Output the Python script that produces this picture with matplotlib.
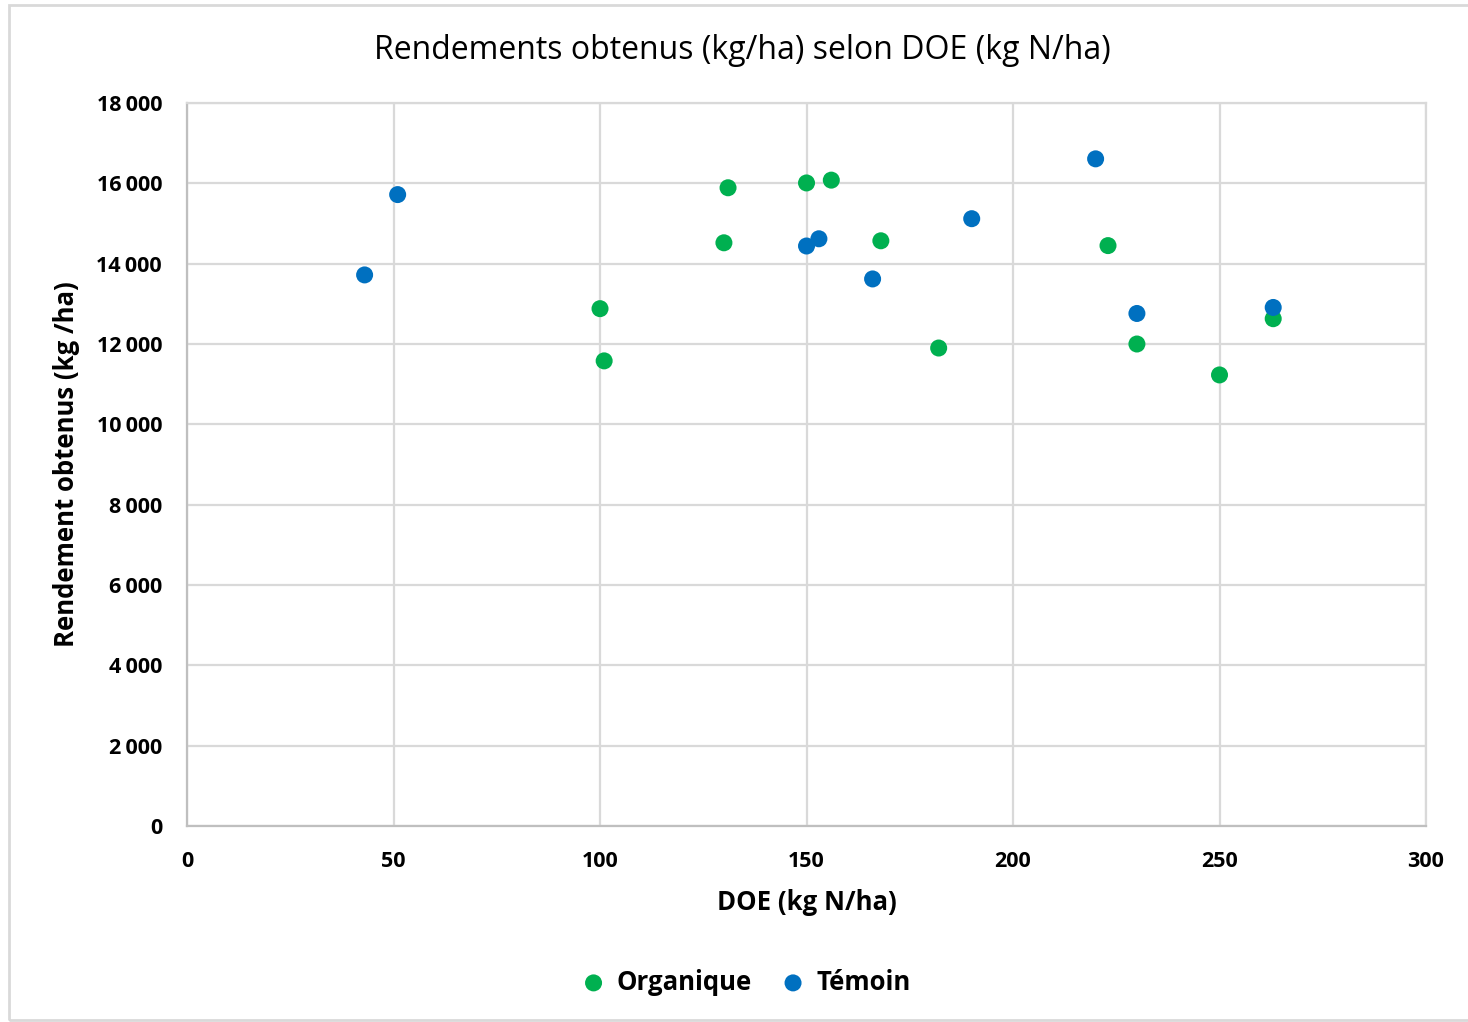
import matplotlib.pyplot as plt
from matplotlib.patches import Rectangle
from matplotlib.ticker import FuncFormatter

plt.rcParams['font.family'] = ['Open Sans', 'DejaVu Sans']

# Organique
doe_org = [100, 101, 131, 130, 150, 156, 168, 182, 223, 230, 250, 263]
rdt_org = [12880, 11580, 15890, 14520, 16010, 16080, 14570, 11900, 14450, 12000, 11230, 12630]
# Témoin
doe_tem = [43, 51, 150, 153, 166, 190, 220, 230, 263]
rdt_tem = [13720, 15720, 14440, 14620, 13620, 15120, 16610, 12760, 12910]

x_ticks = [0, 50, 100, 150, 200, 250, 300]
y_ticks = list(range(0, 18001, 2000))

green = '#00B050'
blue = '#0070C0'
grid_c = '#D9D9D9'

fig = plt.figure(figsize=(14.68, 10.22), dpi=100)
ax = fig.add_axes([0.1274, 0.1918, 0.9714 - 0.1274, 0.8992 - 0.1918])

# outer chart frame
fig.patches.append(Rectangle((0.006, 0.002), 1.1, 0.993, transform=fig.transFigure,
                             fill=False, edgecolor='#D9D9D9', linewidth=2))

ax.scatter(doe_org, rdt_org, s=150, color=green, label='Organique', zorder=3, edgecolors='none')
ax.scatter(doe_tem, rdt_tem, s=150, color=blue, label='Témoin', zorder=3, edgecolors='none')

ax.set_xlim(0, 300)
ax.set_ylim(0, 18000)
ax.set_xticks(x_ticks)
ax.set_yticks(y_ticks)
ax.yaxis.set_major_formatter(FuncFormatter(lambda v, p: f'{int(v):,}'.replace(',', '\u2009')))
ax.grid(color=grid_c, linewidth=1.6)
ax.set_axisbelow(True)
for s in ax.spines.values():
    s.set_color(grid_c)
    s.set_linewidth(1.6)
ax.spines['left'].set_color('#BFBFBF')
ax.spines['bottom'].set_color('#BFBFBF')
ax.tick_params(length=0, labelsize=15.5, labelcolor='black')
ax.tick_params(axis='y', pad=18)
ax.tick_params(axis='x', pad=18)
for lab in ax.get_xticklabels() + ax.get_yticklabels():
    lab.set_fontweight('bold')

fig.text(0.5055, 0.951, 'Rendements obtenus (kg/ha) selon DOE (kg N/ha)', fontsize=23,
         ha='center', va='center')
ax.set_xlabel('DOE (kg N/ha)', fontsize=18.5, fontweight='bold', labelpad=12)
ax.set_ylabel('Rendement obtenus (kg /ha)', fontsize=18.5, fontweight='bold', labelpad=12)

fig.legend(loc='center', bbox_to_anchor=(0.5035, 0.039), ncol=2, frameon=False,
           prop={'size': 18.5, 'weight': 'bold'}, handletextpad=-0.1, columnspacing=0.6,
           markerscale=1.0)

fig.savefig('out.png', dpi=100)
